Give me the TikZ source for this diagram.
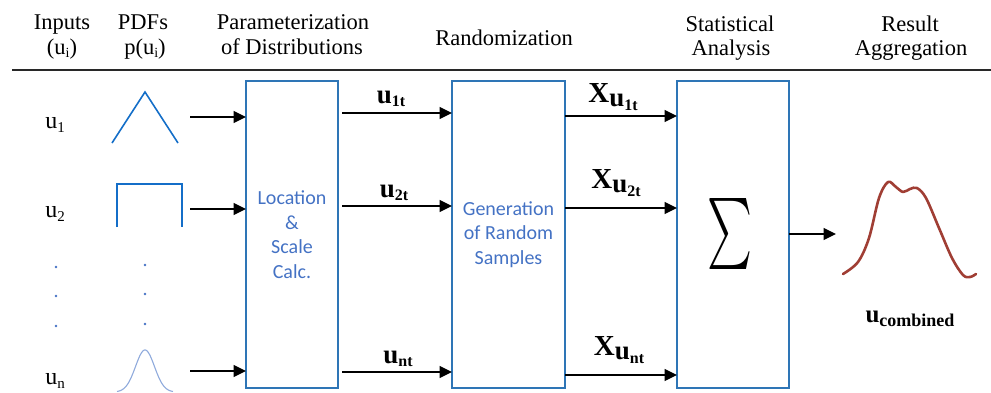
\documentclass[tikz,border=0pt]{standalone}
\usepackage{fontspec}
\setmainfont{Liberation Serif}
\newfontfamily\boxfont{Carlito}
\usetikzlibrary{arrows.meta}

\definecolor{boxblue}{RGB}{46,117,182}
\definecolor{textblue}{RGB}{68,114,196}
\definecolor{pdfblue}{RGB}{20,110,200}
\definecolor{gaussblue}{RGB}{143,170,220}
\definecolor{curvered}{RGB}{160,62,52}
\definecolor{rulegray}{RGB}{40,40,40}

% text with a lowered subscript: base size, base, drop, sub size, sub
\newcommand{\lowsub}[5]{{\fontsize{#1}{#1}\selectfont #2}\raisebox{-#3}{\fontsize{#4}{#4}\selectfont #5}}

\tikzset{
  x=1pt, y=-1pt,
  hdr/.style={anchor=base, inner sep=0, font=\fontsize{22.5}{25}\selectfont},
  stage/.style={draw=boxblue, line width=1.5pt, inner sep=0, outer sep=0,
    text=textblue, align=center, font=\boxfont\fontsize{20}{24.5}\selectfont},
  flow/.style={line width=1.4pt, -{Triangle[length=12.5pt,width=12pt]}},
  pdfline/.style={draw=pdfblue, line width=1.6pt},
  dotmark/.style={circle, fill=textblue, inner sep=0, minimum size=2.8pt},
  varlabel/.style={anchor=base, inner sep=0},
  flowlabel/.style={anchor=base, inner sep=0, font=\bfseries},
}

\begin{document}
\begin{tikzpicture}
\useasboundingbox (0,0) rectangle (991,392);

% column headings
\node[hdr] (hIn1)  at (62,29)  {Inputs};
\node[hdr] (hIn2)  at (62,54)  {(u\raisebox{-3pt}{\fontsize{14}{14}\selectfont i})};
\node[hdr] (hPdf1) at (143,29) {PDFs};
\node[hdr] (hPdf2) at (145,54) {p(u\raisebox{-3pt}{\fontsize{14}{14}\selectfont i})};
\node[hdr] (hPar1) at (293,29) {Parameterization};
\node[hdr] (hPar2) at (292,54) {of Distributions};
\node[hdr] (hRnd)  at (504,45) {Randomization};
\node[hdr] (hSta1) at (730,31) {Statistical};
\node[hdr] (hSta2) at (731,55) {Analysis};
\node[hdr] (hRes1) at (910,31) {Result};
\node[hdr] (hRes2) at (911,55) {Aggregation};
\draw[rulegray, line width=2pt] (12,70) -- (991,70);

% input variables
\node[varlabel] (u1) at (55,128) {\lowsub{24}{u}{4pt}{15}{1}};
\node[varlabel] (u2) at (55,217) {\lowsub{24}{u}{4pt}{15}{2}};
\node[varlabel] (un) at (55,384) {\lowsub{24}{u}{4pt}{15}{n}};
\node[dotmark] (ld1) at (56,267) {};
\node[dotmark] (ld2) at (56,296) {};
\node[dotmark] (ld3) at (56,326) {};

% distribution shapes
\draw[pdfline, line join=miter] (112,143) -- (145,92) -- (178,143);
\draw[pdfline] (117,227) -- (117,184) -- (182,184) -- (182,227);
\node[dotmark] (pd1) at (145,265) {};
\node[dotmark] (pd2) at (145,294) {};
\node[dotmark] (pd3) at (145,324) {};
\draw[gaussblue, line width=1.1pt] plot[domain=-28:28, samples=80]
  ({145+\x}, {392-42*exp(-(\x*\x)/180)});

% processing stages
\node[stage, minimum width=92pt, minimum height=307pt] (b1) at (292,234.5)
  {Location\\\&\\Scale\\Calc.};
\node[stage, minimum width=113pt, minimum height=307pt] (b2) at (508.5,234.5)
  {Generation\\of Random\\Samples};
\node[stage, minimum width=112pt, minimum height=307pt] (b3) at (733,234.5) {};
\node[inner sep=0] (sig) at (730,233.5) {\resizebox*{45pt}{71pt}{$\sum$}};

% inputs into the first stage
\coordinate (i1) at (190,117);
\coordinate (i2) at (190,209);
\coordinate (in) at (190,371);
\draw[flow] (i1) -- (i1 -| b1.west);
\draw[flow] (i2) -- (i2 -| b1.west);
\draw[flow] (in) -- (in -| b1.west);

% parameterized inputs
\draw[flow, shorten <=4pt] (b1.east |- 0,113) -- (b2.west |- 0,113);
\draw[flow, shorten <=4pt] (b1.east |- 0,206) -- (b2.west |- 0,206);
\draw[flow, shorten <=4pt] (b1.east |- 0,372) -- (b2.west |- 0,372);
\node[flowlabel] (l1t) at (391,103) {\lowsub{27}{u}{3pt}{16}{1t}};
\node[flowlabel] (l2t) at (394,197) {\lowsub{27}{u}{3pt}{16}{2t}};
\node[flowlabel] (lnt) at (398,363) {\lowsub{27}{u}{3pt}{16}{nt}};

% random samples
\draw[flow] (b2.east |- 0,116) -- (b3.west |- 0,116);
\draw[flow] (b2.east |- 0,208) -- (b3.west |- 0,208);
\draw[flow] (b2.east |- 0,375) -- (b3.west |- 0,375);
\node[flowlabel] (x1t) at (613,102)
  {{\fontsize{29}{29}\selectfont X}\lowsub{27}{\raisebox{-4pt}{u}}{8pt}{16}{1t}};
\node[flowlabel] (x2t) at (616,188)
  {{\fontsize{29}{29}\selectfont X}\lowsub{27}{\raisebox{-4pt}{u}}{8pt}{16}{2t}};
\node[flowlabel] (xnt) at (619,355)
  {{\fontsize{29}{29}\selectfont X}\lowsub{27}{\raisebox{-4pt}{u}}{8pt}{16}{nt}};

% aggregated result
\coordinate (res) at (836,234);
\draw[flow] (b3.east |- res) -- (res);
\draw[curvered, line width=2.6pt, line cap=round, line join=round]
  plot[smooth, tension=0.55] coordinates {
    (843,274) (858,262) (869,238) (879,198) (888,182) (896,187) (903,192)
    (910,189) (917,188) (926,198) (939,228) (952,258) (963,275) (970,277) (976,274)};
\node[flowlabel] (uc) at (910,322) {\lowsub{25}{u}{4pt}{18}{combined}};
\end{tikzpicture}
\end{document}
